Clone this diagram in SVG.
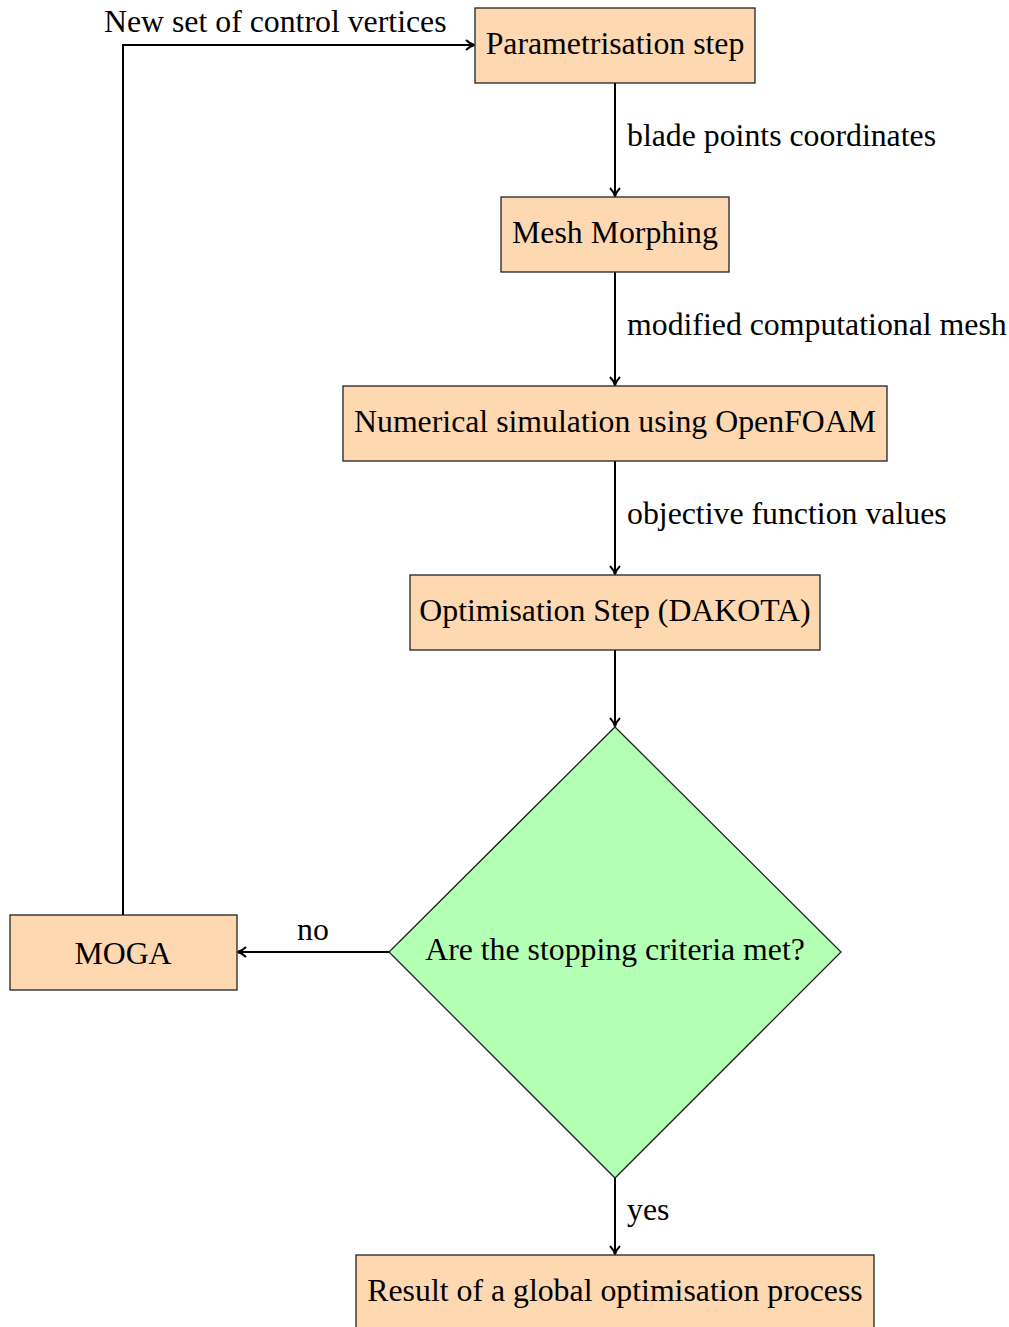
<svg xmlns="http://www.w3.org/2000/svg" width="1009" height="1327" viewBox="0 0 1009 1327">
<style>
.box{fill:#fed8b1;stroke:#222;stroke-width:1.3}
.dia{fill:#b3ffb3;stroke:#222;stroke-width:1.3}
.t{font-family:"Liberation Serif","Times New Roman",serif;font-size:31.8px;fill:#000}
.c{text-anchor:middle}
.ln{fill:none;stroke:#000;stroke-width:2}
</style>
<defs>
<marker id="ah" markerWidth="14" markerHeight="14" refX="11" refY="7" orient="auto" markerUnits="userSpaceOnUse">
<path d="M3,2 Q7,6 11.5,7 Q7,8 3,12" fill="none" stroke="#000" stroke-width="2"/>
</marker>
</defs>
<rect width="1009" height="1327" fill="#fff"/>
<g id="connectors">
<path class="ln" d="M615,83 V196" marker-end="url(#ah)"/>
<path class="ln" d="M615,272 V385" marker-end="url(#ah)"/>
<path class="ln" d="M615,461 V574" marker-end="url(#ah)"/>
<path class="ln" d="M615,650 V726" marker-end="url(#ah)"/>
<path class="ln" d="M389,952 H238" marker-end="url(#ah)"/>
<path class="ln" d="M615,1178 V1254" marker-end="url(#ah)"/>
<path class="ln" d="M123,915 V45 H474" marker-end="url(#ah)"/>
<text class="t" x="627" y="146">blade points coordinates</text>
<text class="t" x="627" y="335">modified computational mesh</text>
<text class="t" x="627" y="524">objective function values</text>
<text class="t c" x="313" y="940">no</text>
<text class="t" x="627" y="1220">yes</text>
<text class="t" x="104" y="32">New set of control vertices</text>
</g>
<g id="param"><rect class="box" x="475" y="8" width="280" height="75"/><text class="t c" x="615" y="54">Parametrisation step</text></g>
<g id="mesh"><rect class="box" x="501" y="197" width="228" height="75"/><text class="t c" x="615" y="243">Mesh Morphing</text></g>
<g id="numsim"><rect class="box" x="343" y="386" width="544" height="75"/><text class="t c" x="615" y="432">Numerical simulation using OpenFOAM</text></g>
<g id="optim"><rect class="box" x="410" y="575" width="410" height="75"/><text class="t c" x="615" y="621">Optimisation Step (DAKOTA)</text></g>
<g id="decision"><polygon class="dia" points="615,727 841,952 615,1178 389,952"/><text class="t c" x="615" y="960">Are the stopping criteria met?</text></g>
<g id="moga"><rect class="box" x="10" y="915" width="227" height="75"/><text class="t c" x="123" y="964">MOGA</text></g>
<g id="result"><rect class="box" x="356" y="1255" width="518" height="75"/><text class="t c" x="615" y="1301">Result of a global optimisation process</text></g>
</svg>
